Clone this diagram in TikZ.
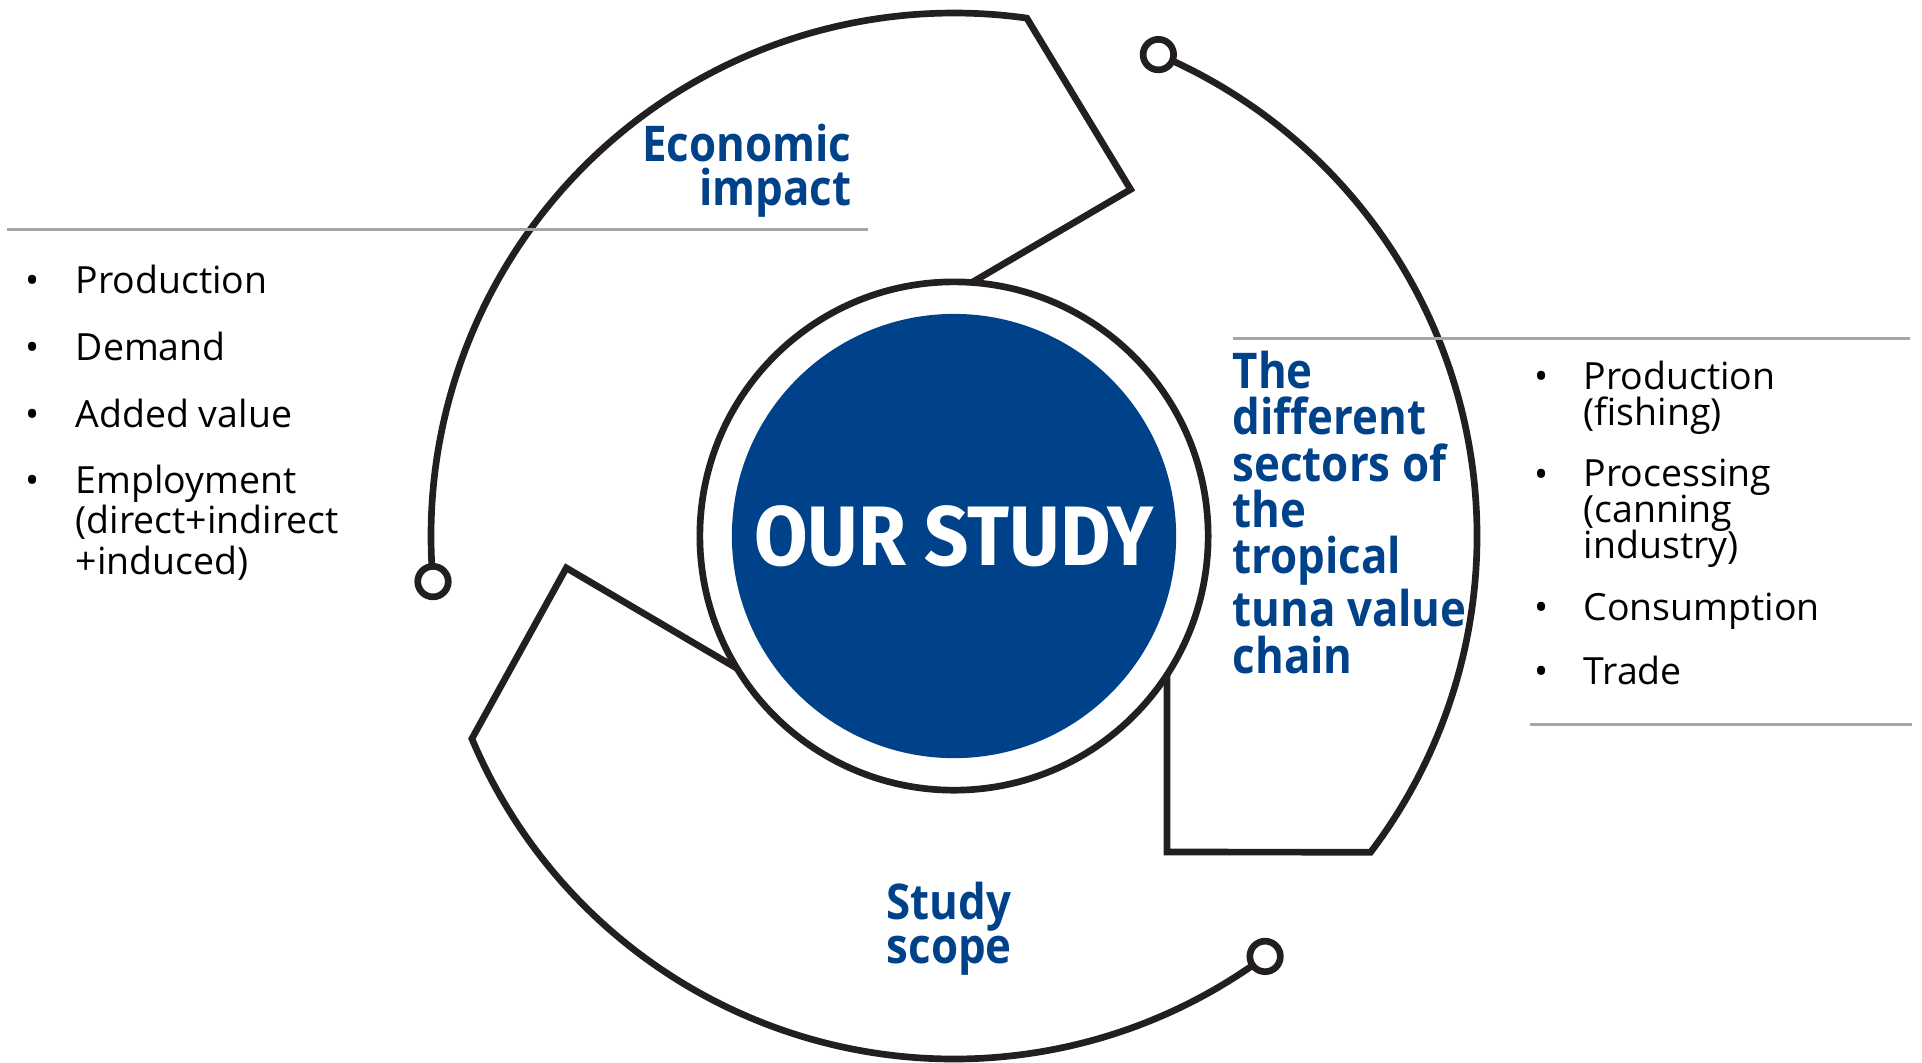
\documentclass[tikz,border=0pt]{standalone}
\usepackage{fontspec}
\setmainfont{Open Sans}
\newfontfamily\headfont[FakeStretch=0.89]{Open Sans}
\newfontfamily\corefont[FakeStretch=0.92]{Fira Sans}
\usetikzlibrary{positioning}
\definecolor{tunablue}{RGB}{0,66,138}
\definecolor{rulegray}{RGB}{166,166,166}
\definecolor{ink}{RGB}{35,31,32}
\newcommand\nolineskip{\lineskiplimit=-20pt\relax}

\begin{document}
\begin{tikzpicture}[x=0.01cm, y=-0.01cm]
	\tikzstyle{Arm}     = [draw=ink, line width=1.9pt, line join=miter]
	\tikzstyle{Marker}  = [circle, draw=ink, line width=1.9pt, fill=white, minimum size=3.05mm, inner sep=0pt]
	\tikzstyle{Ring}    = [circle, draw=ink, line width=1.9pt, fill=white, minimum size=50.8mm, inner sep=0pt]
	\tikzstyle{Core}    = [circle, fill=tunablue, minimum size=44.4mm, inner sep=0pt, text=white, font=\corefont\bfseries\fontsize{24}{24}\selectfont]
	\tikzstyle{Rule}    = [draw=rulegray, line width=0.85pt]
	\tikzstyle{Heading} = [text=tunablue, inner sep=0pt, font=\headfont\bfseries\fontsize{14}{12.5}\selectfont]
	\tikzstyle{Item}    = [inner sep=0pt, align=left, anchor=base west, font=\fontsize{10.65}{11.5}\selectfont\nolineskip]
	\tikzstyle{Tight}   = [font=\fontsize{10.65}{10.1}\selectfont\nolineskip]
	\tikzstyle{Dot}     = [inner sep=0pt, anchor=base, font=\fontsize{10.65}{11.5}\selectfont]

	\useasboundingbox (0,0) rectangle (1922,1062);

	\begin{scope}[shift={(954,536)}]
		% the three arms round the core
		\draw [Arm] (175:523) arc[start angle=175, end angle=278, radius=523] -- (297:389) -- (5,-246);
		\draw [Arm] (293:523) arc[start angle=293, end angle=397.2, radius=523] -- (213,316) -- (213,120);
		\draw [Arm] (53.5:523) arc[start angle=53.5, end angle=157.2, radius=523] -- (175.3:389) -- (-204,140);

		\node (ring) at (0,0) [Ring] {};
		\node (core) at (0,0) [Core] {OUR STUDY};

		\node (m1) at (175:523) [Marker] {};
		\node (m2) at (293:523) [Marker] {};
		\node (m3) at (53.5:523) [Marker] {};
	\end{scope}

	\draw [Rule] (7,229) -- (868,229);
	\draw [Rule] (1233,338) -- (1910,338);
	\draw [Rule] (1530,724) -- (1912,724);

	% multi-line nodes sit on the baseline of their last line
	\node (econ) at (852,205) [Heading, align=right, anchor=base east] {Economic\\impact};
	\node (chain) at (1232,673) [Heading, align=left, anchor=base west, font=\headfont\bfseries\fontsize{14}{13.2}\selectfont] {The\\different\\sectors of\\the\\tropical\\tuna value\\chain};
	\node (scope) at (886,963) [Heading, align=left, anchor=base west] {Study\\scope};

	% economic impact items
	\node (d1) at (33,293) [Dot] {\textbullet};
	\node (l1) at (75,293) [Item] {Production};
	\node (d2) at (33,360) [Dot] {\textbullet};
	\node (l2) at (75,360) [Item] {Demand};
	\node (d3) at (33,427) [Dot] {\textbullet};
	\node (l3) at (75,427) [Item] {Added value};
	\node (d4) at (33,493) [Dot] {\textbullet};
	\node (l4) at (75,574) [Item] {Employment\\(direct+indirect\\+induced)};

	% value chain items
	\node (d5) at (1542,389) [Dot] {\textbullet};
	\node (r1) at (1583,425) [Item, Tight] {Production\\(fishing)};
	\node (d6) at (1542,487) [Dot] {\textbullet};
	\node (r2) at (1583,558) [Item, Tight] {Processing\\(canning\\industry)};
	\node (d7) at (1542,620) [Dot] {\textbullet};
	\node (r3) at (1583,620) [Item] {Consumption};
	\node (d8) at (1542,684) [Dot] {\textbullet};
	\node (r4) at (1583,684) [Item] {Trade};
\end{tikzpicture}
\end{document}
